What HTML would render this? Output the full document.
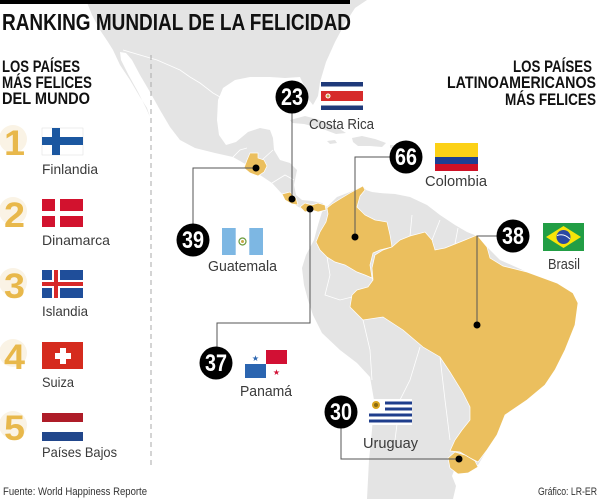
<!DOCTYPE html>
<html><head><meta charset="utf-8"><style>
html,body{margin:0;padding:0;background:#fff;}
svg{display:block;}
text{font-family:"Liberation Sans",sans-serif;}
</style></head><body>
<svg width="600" height="499" viewBox="0 0 600 499" xmlns="http://www.w3.org/2000/svg">
<rect width="600" height="499" fill="#fff"/>
<!-- North America -->
<path d="M86,0 L92,15 L100,30 L108,42 L113,50 L120,65 L130,80 L140,97 L147,108 L150,117 L146,108 L138,92 L128,74 L121,60 L120,52 L126,53 L132,60 L140,75 L150,92 L160,110 L170,127 L180,140 L195,148 L215,153 L233,157 L247,165 L260,175 L272,183 L283,195 L290,200 L297,206 L307,212 L317,210 L327,207 L322,203 L312,201 L302,200 L296,195 L294,185 L297,170 L290,163 L280,160 L274,150 L273,138 L270,130 L260,128 L248,132 L236,142 L226,145 L219,135 L217,120 L218,100 L223,88 L235,80 L250,77 L270,77 L285,78 L300,77 L305,88 L309,100 L313,105 L318,96 L320,82 L326,62 L335,42 L344,25 L355,8 L367,0 Z" fill="#e4e4e4"/>
<!-- Caribbean islands -->
<path d="M290,120 L305,116 L320,120 L335,126 L346,133 L336,134 L320,128 L304,124 L292,123 Z" fill="#e4e4e4"/>
<path d="M352,138 L362,136 L375,139 L386,143 L382,147 L370,146 L358,146 L353,142 Z" fill="#e4e4e4"/>
<path d="M327,141 L335,140 L337,143 L330,144 Z" fill="#e4e4e4"/>
<path d="M390,145 L397,145 L397,148 L390,148 Z" fill="#e4e4e4"/>
<!-- South America -->
<path d="M327,207 L337,197 L350,192 L363,186 L366,190 L372,192 L380,193 L395,194 L410,197 L427,205 L440,215 L455,225 L467,232 L477,236 L487,247 L500,260 L527,272 L557,283 L573,293 L578,303 L575,325 L565,350 L555,370 L545,385 L527,400 L505,415 L497,435 L487,450 L478,465 L465,473 L455,468 L452,476 L456,486 L453,499 L367,499 L369,460 L372,430 L374,400 L370,377 L357,363 L340,350 L322,333 L313,315 L308,300 L304,285 L302,268 L306,255 L314,240 L318,225 L322,212 Z" fill="#e4e4e4"/>
<!-- some white borders -->
<g fill="none" stroke="#fff" stroke-width="0.8">
<path d="M123,50 L157,60 L180,70 L190,77 L200,83 L213,93 L220,97"/>
<path d="M233,157 L240,150 L247,148 M262,160 L273,150 M272,183 L285,175 L294,180"/>
<path d="M372,278 L385,300 L400,320 M363,320 L370,350 L372,380 M420,347 L410,380 L400,400 L395,440 M440,357 L445,400 L450,440"/>
<path d="M410,236 L412,215 M432,240 L440,220 M455,244 L458,228"/>
<path d="M327,257 L330,275 L325,295 L340,300 L352,297"/>
</g>
<!-- highlighted countries -->
<g fill="#ebbf5e" stroke="#fff" stroke-width="0.7">
<path d="M327,208 L332,204 L340,199 L350,193 L363,186 L365,190 L360,196 L357,207 L365,215 L375,220 L387,222 L390,235 L392,247 L380,250 L373,253 L370,265 L372,278 L365,275 L357,272 L345,265 L335,262 L327,257 L320,250 L316,242 L320,232 L326,222 L328,214 Z"/>
<path d="M392,247 L400,240 L410,236 L425,232 L432,240 L435,250 L445,248 L455,244 L465,240 L477,235 L487,247 L490,258 L503,266 L527,272 L557,283 L573,293 L578,303 L575,325 L565,350 L555,370 L545,385 L527,400 L505,415 L497,435 L487,450 L478,462 L470,458 L460,452 L450,451 L455,440 L462,430 L470,420 L470,407 L463,393 L450,372 L440,357 L423,347 L403,330 L383,317 L363,320 L350,307 L352,295 L357,290 L368,287 L373,280 L372,268 L375,255 L383,250 Z"/>
<path d="M448,458 L455,452 L465,455 L475,461 L478,467 L468,473 L458,474 L450,468 Z"/>
<path d="M247,160 L250,153 L258,153 L258,158 L264,160 L267,166 L264,172 L258,176 L250,173 L244,168 Z"/>
<path d="M282,194 L290,192 L296,198 L298,205 L292,204 L285,200 Z"/>
<path d="M300,207 L305,203 L312,205 L318,203 L325,205 L326,210 L318,212 L312,210 L305,212 Z"/>
</g>
<!-- title -->
<rect x="0" y="0" width="350" height="4" fill="#000"/>
<text x="2" y="30" font-size="23" font-weight="bold" fill="#111" textLength="349" lengthAdjust="spacingAndGlyphs">RANKING MUNDIAL DE LA FELICIDAD</text>
<!-- left headings -->
<g font-size="17" font-weight="bold" fill="#111">
<text x="2" y="72" textLength="78" lengthAdjust="spacingAndGlyphs">LOS PAÍSES</text>
<text x="2" y="88" textLength="90" lengthAdjust="spacingAndGlyphs">MÁS FELICES</text>
<text x="2" y="104" textLength="88" lengthAdjust="spacingAndGlyphs">DEL MUNDO</text>
</g>
<g font-size="17" font-weight="bold" fill="#111" text-anchor="end">
<text x="592" y="72" textLength="79" lengthAdjust="spacingAndGlyphs">LOS PAÍSES</text>
<text x="596" y="88" textLength="149" lengthAdjust="spacingAndGlyphs">LATINOAMERICANOS</text>
<text x="596" y="105" textLength="91" lengthAdjust="spacingAndGlyphs">MÁS FELICES</text>
</g>
<!-- divider -->
<line x1="151" y1="55" x2="151" y2="465" stroke="#aaa" stroke-width="1" stroke-dasharray="5,4"/>
<!-- numbers -->
<g fill="#faf3e5">
<circle cx="13" cy="139" r="14"/><circle cx="13" cy="211" r="14"/><circle cx="13" cy="282" r="14"/><circle cx="13" cy="353" r="14"/><circle cx="13" cy="425" r="14"/>
</g>
<g font-size="35" font-weight="bold" fill="#e8b84b">
<text x="4" y="155" textLength="21" lengthAdjust="spacingAndGlyphs">1</text>
<text x="4" y="227" textLength="21" lengthAdjust="spacingAndGlyphs">2</text>
<text x="4" y="298" textLength="21" lengthAdjust="spacingAndGlyphs">3</text>
<text x="4" y="369" textLength="21" lengthAdjust="spacingAndGlyphs">4</text>
<text x="4" y="440" textLength="21" lengthAdjust="spacingAndGlyphs">5</text>
</g>
<!-- left flags -->
<rect x="42" y="128" width="41" height="27" fill="#fff" stroke="#ddd" stroke-width="0.5"/>
<rect x="52" y="128" width="8" height="27" fill="#1b57a0"/>
<rect x="42" y="137" width="41" height="8" fill="#1b57a0"/>
<rect x="42" y="199" width="41" height="28" fill="#d2122e"/>
<rect x="55" y="199" width="5" height="28" fill="#fff"/>
<rect x="42" y="211" width="41" height="5" fill="#fff"/>
<rect x="42" y="270" width="41" height="28" fill="#1f4e9a"/>
<rect x="52" y="270" width="8" height="28" fill="#fff"/>
<rect x="42" y="280" width="41" height="8" fill="#fff"/>
<rect x="54" y="270" width="4" height="28" fill="#d72828"/>
<rect x="42" y="282" width="41" height="4" fill="#d72828"/>
<rect x="42" y="342" width="41" height="27" fill="#d52b1e"/>
<rect x="60" y="348" width="6" height="16" fill="#fff"/>
<rect x="55" y="353" width="16" height="6" fill="#fff"/>
<rect x="42" y="413" width="41" height="9" fill="#ae1c28"/>
<rect x="42" y="422" width="41" height="10" fill="#fff"/>
<rect x="42" y="432" width="41" height="9" fill="#21468b"/>
<!-- left labels -->
<g font-size="14" fill="#3a3a3a">
<text x="42" y="174" textLength="56" lengthAdjust="spacingAndGlyphs">Finlandia</text>
<text x="42" y="245" textLength="68" lengthAdjust="spacingAndGlyphs">Dinamarca</text>
<text x="42" y="316" textLength="46" lengthAdjust="spacingAndGlyphs">Islandia</text>
<text x="42" y="387" textLength="32" lengthAdjust="spacingAndGlyphs">Suiza</text>
<text x="42" y="457" textLength="75" lengthAdjust="spacingAndGlyphs">Países Bajos</text>
</g>
<!-- callout lines -->
<g fill="none" stroke="#555" stroke-width="1">
<polyline points="292,113 292,199"/>
<polyline points="256,168 193,168 193,224"/>
<polyline points="390,157 355,157 355,237"/>
<polyline points="497,236 477,236 477,325"/>
<polyline points="310,209 310,323 217,323 217,347"/>
<polyline points="341,428 341,459 459,459"/>
</g>
<g fill="#000">
<circle cx="256" cy="168" r="3.5"/><circle cx="292" cy="199" r="3.5"/><circle cx="310" cy="209" r="3.5"/>
<circle cx="355" cy="237" r="3.5"/><circle cx="477" cy="325" r="3.5"/><circle cx="459" cy="459" r="3.5"/>
</g>
<!-- rank circles -->
<g fill="#000">
<circle cx="292" cy="97" r="16.5"/><circle cx="193" cy="240" r="16.5"/><circle cx="406" cy="157" r="16.5"/>
<circle cx="513" cy="236" r="16.5"/><circle cx="216" cy="363" r="16.5"/><circle cx="341" cy="412" r="16.5"/>
</g>
<g font-size="24" font-weight="bold" fill="#fff" text-anchor="middle">
<text x="292" y="105" textLength="22" lengthAdjust="spacingAndGlyphs">23</text>
<text x="193" y="248" textLength="22" lengthAdjust="spacingAndGlyphs">39</text>
<text x="406" y="165" textLength="22" lengthAdjust="spacingAndGlyphs">66</text>
<text x="513" y="244" textLength="22" lengthAdjust="spacingAndGlyphs">38</text>
<text x="216" y="371" textLength="22" lengthAdjust="spacingAndGlyphs">37</text>
<text x="341" y="420" textLength="22" lengthAdjust="spacingAndGlyphs">30</text>
</g>
<!-- Costa Rica flag -->
<rect x="321" y="82" width="42" height="28" fill="#fff"/>
<rect x="321" y="82" width="42" height="4.5" fill="#1f3a7a"/>
<rect x="321" y="105.5" width="42" height="4.5" fill="#1f3a7a"/>
<rect x="321" y="91" width="42" height="10" fill="#d62b2b"/>
<circle cx="328" cy="96" r="2.5" fill="#fff"/><circle cx="328" cy="96" r="1.5" fill="#c9a24a"/>
<!-- Colombia flag -->
<rect x="435" y="143" width="43" height="14" fill="#fcd116"/>
<rect x="435" y="157" width="43" height="7" fill="#1c3f94"/>
<rect x="435" y="164" width="43" height="7" fill="#ce1126"/>
<!-- Brazil flag -->
<rect x="543" y="223" width="41" height="28" fill="#229e45"/>
<polygon points="563.5,226 581,237 563.5,248 546,237" fill="#f8e509"/>
<circle cx="563.5" cy="237" r="7" fill="#2b49a3"/>
<path d="M557,235.5 Q564,233 570,239" stroke="#fff" stroke-width="1" fill="none"/>
<!-- Guatemala flag -->
<rect x="222" y="228" width="41" height="27" fill="#fff"/>
<rect x="222" y="228" width="13.7" height="27" fill="#7db7e3"/>
<rect x="249.3" y="228" width="13.7" height="27" fill="#7db7e3"/>
<circle cx="242.5" cy="241.5" r="3.5" fill="none" stroke="#6a9a3a" stroke-width="1.2"/>
<circle cx="242.5" cy="241.5" r="1.5" fill="#c8a84a"/>
<!-- Panama flag -->
<rect x="245" y="350" width="42" height="28" fill="#fff"/>
<rect x="266" y="350" width="21" height="14" fill="#d21034"/>
<rect x="245" y="364" width="21" height="14" fill="#2b65b0"/>
<text x="255.5" y="361" font-size="8" fill="#2b65b0" text-anchor="middle">★</text>
<text x="276.5" y="375" font-size="8" fill="#d21034" text-anchor="middle">★</text>
<!-- Uruguay flag -->
<rect x="369" y="399" width="43" height="26" fill="#fff"/>
<rect x="385" y="401.5" width="27" height="3" fill="#1f3e8c"/>
<rect x="385" y="407.5" width="27" height="3" fill="#1f3e8c"/>
<rect x="369" y="413.5" width="43" height="3" fill="#1f3e8c"/>
<rect x="369" y="419.5" width="43" height="3" fill="#1f3e8c"/>
<circle cx="376" cy="405" r="4" fill="#d9a520"/>
<circle cx="376" cy="405" r="2" fill="#8a6a10"/>
<!-- map labels -->
<g font-size="15" fill="#3a3a3a">
<text x="309" y="129" textLength="65" lengthAdjust="spacingAndGlyphs">Costa Rica</text>
<text x="425" y="186" textLength="62" lengthAdjust="spacingAndGlyphs">Colombia</text>
<text x="208" y="271" textLength="69" lengthAdjust="spacingAndGlyphs">Guatemala</text>
<text x="548" y="269" textLength="32" lengthAdjust="spacingAndGlyphs">Brasil</text>
<text x="240" y="396" textLength="52" lengthAdjust="spacingAndGlyphs">Panamá</text>
<text x="363" y="448" textLength="55" lengthAdjust="spacingAndGlyphs">Uruguay</text>
</g>
<!-- footer -->
<text x="3" y="495" font-size="11" fill="#333" textLength="144" lengthAdjust="spacingAndGlyphs">Fuente: World Happiness Reporte</text>
<text x="597" y="495" font-size="11" fill="#333" text-anchor="end" textLength="59" lengthAdjust="spacingAndGlyphs">Gráfico: LR-ER</text>
</svg>
</body></html>
